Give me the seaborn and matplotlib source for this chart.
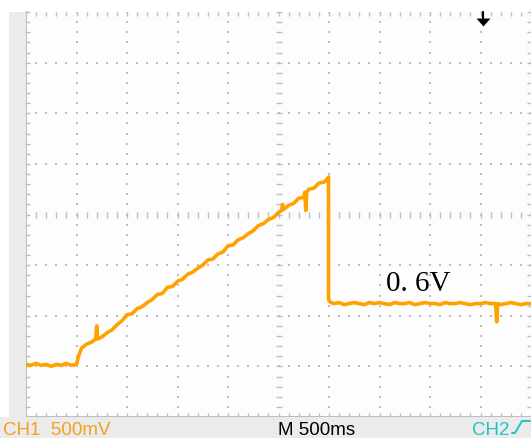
import numpy as np
import pandas as pd
import matplotlib
matplotlib.use("Agg")
import matplotlib.pyplot as plt
import seaborn as sns
from matplotlib.lines import Line2D
from matplotlib.patches import Rectangle

# Scope settings
volts_per_div = 0.5
secs_per_div = 0.5
t_range = (-2.5, 2.5)
v_range = (-0.5, 3.5)
trigger_time = 2.02
level_label = "0. 6V"

# CH1 trace (seconds, volts)
time_base = [-2.50, -2.45, -2.40, -2.35, -2.30, -2.25, -2.20, -2.15, -2.10, -2.05, -2.00]
volt_base = [0.02, 0.01, 0.03, 0.01, 0.02, 0.00, 0.02, 0.01, 0.03, 0.01, 0.02]

time_ramp = [-1.98, -1.95, -1.90, -1.85, -1.81, -1.80, -1.79, -1.75, -1.70, -1.65,
             -1.60, -1.55, -1.50, -1.45, -1.40, -1.35, -1.30, -1.25, -1.20, -1.15,
             -1.10, -1.05, -1.00, -0.95, -0.90, -0.85, -0.80, -0.75, -0.70, -0.65,
             -0.60, -0.55, -0.50, -0.45, -0.40, -0.35, -0.30, -0.25, -0.20, -0.15,
             -0.10, -0.05, 0.00, 0.03, 0.04, 0.05, 0.10, 0.15, 0.20, 0.25,
             0.26, 0.27, 0.28, 0.30, 0.35, 0.40, 0.45, 0.49]
volt_ramp = [0.10, 0.18, 0.22, 0.24, 0.27, 0.40, 0.27, 0.29, 0.33, 0.36,
             0.41, 0.45, 0.51, 0.52, 0.57, 0.59, 0.63, 0.66, 0.71, 0.72,
             0.78, 0.79, 0.84, 0.86, 0.91, 0.93, 0.97, 1.00, 1.05, 1.06,
             1.11, 1.13, 1.19, 1.20, 1.25, 1.27, 1.31, 1.34, 1.39, 1.41,
             1.45, 1.47, 1.52, 1.54, 1.60, 1.55, 1.59, 1.61, 1.66, 1.67,
             1.72, 1.54, 1.72, 1.75, 1.76, 1.81, 1.82, 1.86]

time_drop = [0.495, 0.495, 0.50, 0.52]
volt_drop = [1.87, 0.68, 0.65, 0.63]

time_tail = [0.55, 0.60, 0.65, 0.70, 0.75, 0.80, 0.85, 0.90, 0.95, 1.00,
             1.05, 1.10, 1.15, 1.20, 1.25, 1.30, 1.35, 1.40, 1.45, 1.50,
             1.55, 1.60, 1.65, 1.70, 1.75, 1.80, 1.85, 1.90, 1.95, 2.00,
             2.05, 2.10, 2.15, 2.16, 2.17, 2.20, 2.25, 2.30, 2.35, 2.40,
             2.45, 2.50]
volt_tail = [0.62, 0.63, 0.61, 0.62, 0.63, 0.62, 0.61, 0.63, 0.62, 0.63,
             0.62, 0.61, 0.63, 0.62, 0.62, 0.63, 0.61, 0.62, 0.63, 0.62,
             0.62, 0.61, 0.63, 0.62, 0.62, 0.63, 0.62, 0.61, 0.62, 0.62,
             0.63, 0.62, 0.62, 0.44, 0.62, 0.61, 0.62, 0.63, 0.62, 0.61,
             0.62, 0.62]

df = pd.DataFrame({
    "time": time_base + time_ramp + time_drop + time_tail,
    "volt": volt_base + volt_ramp + volt_drop + volt_tail,
})

ORANGE = "#ffa200"
ORANGE_TXT = "#f5a01e"
CYAN = "#1fc4c4"
GRID = "#bdbdbd"
PANEL = "#ebebeb"

sns.set_style("white")
plt.rcParams["font.family"] = ["Liberation Sans", "DejaVu Sans"]

W, H = 531, 439
fig = plt.figure(figsize=(W / 100, H / 100), dpi=100)
fig.patch.set_facecolor("white")

# grey panels round the screen
fig.patches.append(Rectangle((9 / W, 21 / H), 17 / W, 405 / H, transform=fig.transFigure,
                             facecolor=PANEL, edgecolor="none", zorder=0))
fig.patches.append(Rectangle((0, 0), 1, 21 / H, transform=fig.transFigure,
                             facecolor=PANEL, edgecolor="none", zorder=0))

ax = fig.add_axes([26 / W, 21 / H, 505 / W, 405 / H])
ax.set_facecolor("#fdfdfd")
ax.set_xlim(*t_range)
ax.set_ylim(*v_range)

# dotted graticule
sub_t = secs_per_div / 5
sub_v = volts_per_div / 5
t_sub = np.round(np.arange(t_range[0], t_range[1] + 1e-9, sub_t), 3)
v_sub = np.round(np.arange(v_range[0], v_range[1] + 1e-9, sub_v), 3)
t_major = np.round(np.arange(t_range[0] + secs_per_div, t_range[1] - 1e-9, secs_per_div), 3)
v_major = np.round(np.arange(v_range[0] + volts_per_div, v_range[1] - 1e-9, volts_per_div), 3)
t_mid = (t_range[0] + t_range[1]) / 2
v_mid = (v_range[0] + v_range[1]) / 2

for tm in t_major:
    if abs(tm - t_mid) < 1e-6:
        ax.plot(np.full_like(v_sub, tm), v_sub, ls="none", marker="_", ms=4.5,
                mew=1.0, color=GRID, zorder=1)
    else:
        ax.plot(np.full_like(v_sub, tm), v_sub, ls="none", marker="s", ms=1.6,
                mew=0, color=GRID, zorder=1)
for vm in v_major:
    if abs(vm - v_mid) < 1e-6:
        ax.plot(t_sub, np.full_like(t_sub, vm), ls="none", marker="|", ms=4.5,
                mew=1.0, color=GRID, zorder=1)
    else:
        ax.plot(t_sub, np.full_like(t_sub, vm), ls="none", marker="s", ms=1.6,
                mew=0, color=GRID, zorder=1)

# border ticks
ax.set_xticks(t_sub)
ax.set_yticks(v_sub)
ax.tick_params(axis="both", which="both", direction="in", length=3, width=1.0,
               color=GRID, top=True, right=True, bottom=True, left=True,
               labelbottom=False, labelleft=False)
for side in ["top", "right"]:
    ax.spines[side].set_visible(False)
for side in ["left", "bottom"]:
    ax.spines[side].set_color(GRID)
    ax.spines[side].set_linewidth(1.4)

# trace
sns.lineplot(data=df, x="time", y="volt", sort=False, estimator=None,
             color=ORANGE, lw=2.6, ax=ax, zorder=3)
ax.set_xlabel("")
ax.set_ylabel("")

ax.text(1.06, 0.75, level_label, family="Liberation Serif", fontsize=21,
        color="black", va="baseline", ha="left", zorder=4)

# ground marker for CH1
ax.text(-2.66, 0.0, "1", fontsize=10, color=ORANGE, va="center", ha="left", clip_on=False)
ax.plot([-2.61, -2.55], [0.0, 0.0], color=ORANGE, lw=1.2, clip_on=False)
ax.plot([-2.545], [0.0], marker=">", ms=5, mew=0, color=ORANGE, clip_on=False)

# trigger position arrow
ax.plot([trigger_time, trigger_time], [v_range[1], v_range[1] - 0.06], color="black",
        lw=1.6, clip_on=False, zorder=5)
ax.plot([trigger_time], [v_range[1] - 0.095], ls="none",
        marker=[(-7, 4), (7, 4), (0, -4)], ms=10, mew=0, color="black",
        clip_on=False, zorder=5)

# status bar
fig.text(3 / W, 4 / H, "CH1  500mV", fontsize=13.5, color=ORANGE_TXT, va="baseline")
fig.text(278 / W, 4 / H, "M 500ms", fontsize=13.5, color="black", va="baseline")
fig.text(472 / W, 4 / H, "CH2", fontsize=13.5, color=CYAN, va="baseline")
edge_x = np.array([512, 515, 522, 530]) / W
edge_y = (H - np.array([434, 434, 422, 422])) / H
fig.lines.append(Line2D(edge_x, edge_y, transform=fig.transFigure, color=CYAN, lw=1.4))

fig.savefig("out.png", dpi=100)
